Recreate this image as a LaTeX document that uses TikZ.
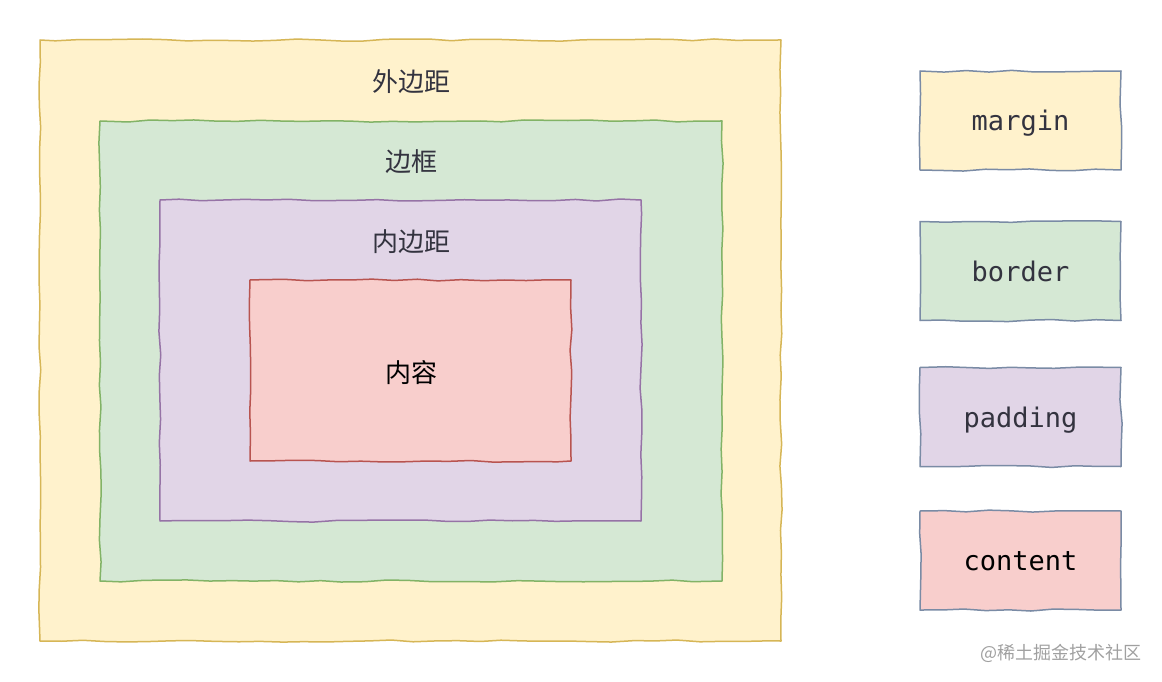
\documentclass[tikz,border=0pt]{standalone}
\usepackage{fontspec}
\newfontfamily\cjk{Noto Sans CJK SC}
\setmonofont{DejaVu Sans Mono}
\usetikzlibrary{decorations.pathmorphing}
\definecolor{mfill}{HTML}{FFF2CC}
\definecolor{mstroke}{HTML}{D6B656}
\definecolor{bfill}{HTML}{D5E8D4}
\definecolor{bstroke}{HTML}{82B366}
\definecolor{pfill}{HTML}{E1D5E7}
\definecolor{pstroke}{HTML}{9673A6}
\definecolor{cfill}{HTML}{F8CECC}
\definecolor{cstroke}{HTML}{B85450}
\definecolor{lstroke}{HTML}{7A8BA5}
\definecolor{txt}{HTML}{33333F}
\definecolor{wm}{HTML}{A0A0A0}
\tikzset{
  sketch/.style={decorate, decoration={random steps, segment length=22pt, amplitude=1.1pt}, line join=round, line width=1.5pt, inner sep=0pt},
  cjklabel/.style={font=\cjk\fontsize{26}{30}\selectfont, text=txt, inner sep=0pt},
  legend/.style={sketch, draw=lstroke, minimum width=201pt, minimum height=99pt, font=\ttfamily\fontsize{27}{32}\selectfont, text=txt, text height=20pt, text depth=0pt},
}
\begin{document}
\begin{tikzpicture}[x=1pt,y=-1pt]
\pgfmathsetseed{4321}
\useasboundingbox (0,0) rectangle (1162,682);
\node[sketch, draw=mstroke, fill=mfill, minimum width=741pt, minimum height=601pt] (margin) at (410.5,340.5) {};
\node[sketch, draw=bstroke, fill=bfill, minimum width=622pt, minimum height=460pt] (border) at (411,351) {};
\node[sketch, draw=pstroke, fill=pfill, minimum width=481pt, minimum height=321pt] (padding) at (400.5,360.5) {};
\node[sketch, draw=cstroke, fill=cfill, minimum width=321pt, minimum height=181pt] (content) at (410.5,370.5) {};
\node[cjklabel] (lmargin) at (411,82) {外边距};
\node[cjklabel] (lborder) at (411,162) {边框};
\node[cjklabel] (lpadding) at (411,242) {内边距};
\node[cjklabel, text=black] (lcontent) at (411,373) {内容};
\node[legend, fill=mfill] (legm) at (1020.5,120.5) {margin};
\node[legend, fill=bfill] (legb) at (1020.5,271) {border};
\node[legend, fill=pfill] (legp) at (1020.5,417) {padding};
\node[legend, fill=cfill, text=black] (legc) at (1020.5,560.5) {content};
\node[font=\cjk\fontsize{18}{21}\selectfont, text=wm, inner sep=0pt, anchor=east] (wmark) at (1142,653) {@稀土掘金技术社区};
\end{tikzpicture}
\end{document}
